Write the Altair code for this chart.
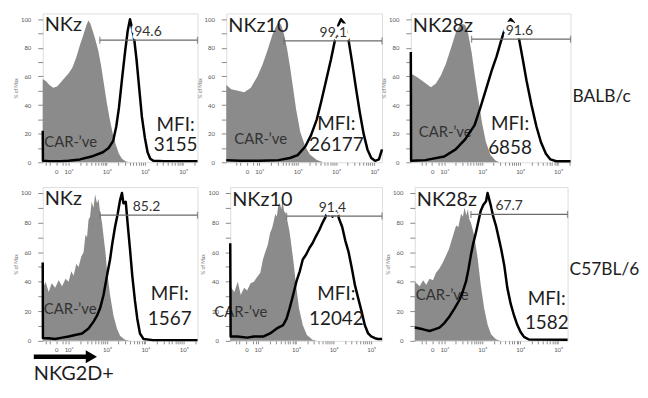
import altair as alt
import pandas as pd
import numpy as np

# ---------------- data ----------------
# x values are in display "decades" of the biexponential FlowJo axis (2 = 10^2, 3 = 10^3 ...)
# y values are "% of Max"

# NKz / BALB/c
nkz_balb_neg_d = [1.325, 1.40, 1.50, 1.60, 1.70, 1.80, 1.90, 2.00, 2.10, 2.20, 2.30, 2.40, 2.47, 2.52, 2.57, 2.62,
                  2.70, 2.78, 2.85, 2.92, 3.00, 3.08, 3.16, 3.24, 3.32, 3.40, 3.50, 3.60, 5.377]
nkz_balb_neg_v = [58, 57, 54, 52, 53, 56, 59, 62, 66, 73, 82, 90, 96, 99, 97, 93,
                  86, 78, 68, 56, 42, 30, 20, 12, 6, 2.5, 0.5, 0, 0]
nkz_balb_pos_d = [1.325, 1.33, 1.5, 1.8, 2.0, 2.3, 2.6, 2.9, 3.05, 3.17, 3.25, 3.32, 3.40, 3.48, 3.55, 3.61,
                  3.66, 3.72, 3.78, 3.85, 3.92, 4.0, 4.07, 4.14, 4.22, 4.5, 5.377]
nkz_balb_pos_v = [22, 1, 0.8, 0.8, 1, 2, 4, 7, 10, 15, 25, 38, 58, 77, 92, 100,
                  94, 86, 72, 52, 32, 17, 7, 2.5, 1, 0.8, 0.8]

# NKz10 / BALB/c
nkz10_balb_neg_d = [1.139, 1.27, 1.44, 1.61, 1.78, 1.95, 2.08, 2.21, 2.34, 2.42, 2.50, 2.57, 2.64, 2.72, 2.80,
                    2.88, 2.96, 3.07, 3.20, 3.32, 3.50, 3.67, 5.201]
nkz10_balb_neg_v = [54, 51, 50, 49, 52, 60, 68, 78, 89, 94, 98, 96, 90, 80, 67,
                    52, 37, 21, 11, 5.5, 1.6, 0, 0]
nkz10_balb_pos_d = [1.139, 1.5, 2.0, 2.5, 2.8, 3.0, 3.2, 3.35, 3.5, 3.62, 3.75, 3.87, 3.97, 4.05, 4.13, 4.22,
                    4.33, 4.42, 4.52, 4.62, 4.72, 4.82, 4.92, 5.02, 5.12, 5.201]
nkz10_balb_pos_v = [1.5, 1, 1, 1.5, 3, 5, 11, 19, 30, 43, 58, 72, 85, 95, 100, 97,
                    85, 70, 52, 35, 20, 9, 3, 1, 2, 9]

# NK28z / BALB/c
nk28z_balb_neg_d = [1.118, 1.29, 1.47, 1.65, 1.78, 1.91, 2.04, 2.18, 2.31, 2.44, 2.55, 2.63, 2.72, 2.81, 2.90,
                    3.00, 3.10, 3.22, 3.35, 3.45, 5.33]
nk28z_balb_neg_v = [62, 59.5, 56, 52.5, 55, 60.6, 68.7, 80, 91, 97, 96, 90, 77, 60, 44,
                    27, 14, 5, 1.2, 0, 0]
nk28z_balb_pos_d = [1.118, 1.125, 1.5, 2.0, 2.3, 2.55, 2.8, 2.95, 3.1, 3.25, 3.38, 3.5, 3.62, 3.75, 3.85, 3.93,
                    3.98, 4.07, 4.17, 4.3, 4.43, 4.55, 4.68, 4.8, 4.95, 5.33]
nk28z_balb_pos_v = [77, 1, 1.5, 4, 9, 16, 26, 38, 51, 64, 74, 85, 95, 100, 97, 91,
                    85, 72, 57, 40, 25, 14, 6, 2, 0.7, 0.7]

# NKz / C57BL/6
nkz_b6_neg_d = [1.325, 1.40, 1.48, 1.56, 1.65, 1.74, 1.83, 1.92, 2.0, 2.07, 2.13, 2.20, 2.26, 2.33, 2.39, 2.44,
                2.48, 2.52, 2.56, 2.60, 2.65, 2.69, 2.74, 2.78, 2.82, 2.87, 2.91, 2.96, 3.0, 3.08, 3.17, 3.26,
                3.34, 3.47, 3.6, 5.36]
nkz_b6_neg_v = [35, 40, 33, 39, 36, 41, 37, 42, 40, 47, 44, 52, 50, 57, 60, 72,
                70, 82, 84, 94, 90, 99, 93, 96, 87, 80, 71, 60, 48, 31, 17, 8.4,
                3.5, 0.7, 0, 0]
nkz_b6_pos_d = [1.325, 1.33, 1.48, 1.65, 1.83, 2.0, 2.17, 2.35, 2.52, 2.65, 2.74, 2.82, 2.91, 3.0, 3.08, 3.14,
                3.21, 3.28, 3.34, 3.39, 3.43, 3.49, 3.54, 3.6, 3.66, 3.73, 3.79, 3.86, 3.95, 4.2, 5.36]
nkz_b6_pos_v = [53, 2, 1.8, 1.3, 2.2, 3, 4, 5, 8.4, 13, 17, 22, 31, 44, 55, 66,
                77, 86, 95, 100, 93, 94, 79, 62, 44, 27, 15, 5, 1.3, 0.5, 0.5]

# NKz10 / C57BL/6
nkz10_b6_neg_d = [1.25, 1.36, 1.45, 1.53, 1.62, 1.7, 1.79, 1.88, 1.96, 2.05, 2.12, 2.18, 2.25, 2.31, 2.36, 2.40,
                  2.45, 2.49, 2.53, 2.57, 2.61, 2.64, 2.68, 2.73, 2.78, 2.82, 2.86, 2.90, 2.95, 2.99, 3.08, 3.18,
                  3.29, 3.44, 3.55, 5.29]
nkz10_b6_neg_v = [37, 33, 40, 31, 36, 34, 39, 40, 43, 46, 55, 60, 65, 73, 76, 80,
                  86, 84, 92, 93, 89, 96, 88, 86, 80, 75, 68, 60, 50, 40, 22, 10.7,
                  4, 0.7, 0, 0]
nkz10_b6_pos_d = [1.25, 1.26, 1.44, 1.7, 1.88, 2.14, 2.31, 2.49, 2.66, 2.75, 2.83, 2.92, 3.01, 3.1, 3.18, 3.27,
                  3.36, 3.44, 3.53, 3.62, 3.7, 3.79, 3.84, 3.88, 3.93, 3.97, 4.01, 4.05, 4.1, 4.14, 4.23, 4.31,
                  4.4, 4.49, 4.57, 4.66, 4.75, 4.83, 4.92, 5.0, 5.1, 5.18, 5.29]
nkz10_b6_pos_v = [66, 3, 3, 2.2, 3, 3, 5, 8.4, 10.7, 15, 22, 30.7, 40, 47, 55, 58.4,
                  63, 66, 70.7, 75, 79.5, 84, 88, 85, 90, 84, 89, 85, 88, 83, 77, 68,
                  60, 48.6, 37.5, 28.4, 19.5, 10.7, 5, 3, 1.8, 1.3, 1.3]

# NK28z / C57BL/6
nk28z_b6_neg_d = [1.22, 1.35, 1.44, 1.52, 1.61, 1.7, 1.78, 1.87, 1.96, 2.05, 2.12, 2.18, 2.25, 2.31, 2.37, 2.44,
                  2.49, 2.53, 2.58, 2.62, 2.66, 2.7, 2.79, 2.88, 2.96, 3.05, 3.14, 3.23, 3.36, 3.48, 5.25]
nk28z_b6_neg_v = [40, 37, 41, 38, 42, 41, 46, 49, 53, 58, 62, 67, 73, 78, 77, 86,
                  84, 90, 85, 89, 82, 80, 71, 55.6, 37.8, 22, 11, 4.4, 1.1, 0, 0]
nk28z_b6_pos_d = [1.22, 1.44, 1.61, 1.74, 1.87, 2.0, 2.14, 2.27, 2.4, 2.48, 2.57, 2.64, 2.7, 2.76, 2.83, 2.9,
                  2.96, 3.03, 3.1, 3.14, 3.18, 3.23, 3.29, 3.36, 3.43, 3.5, 3.58, 3.66, 3.75, 3.84, 3.92, 4.01,
                  4.1, 4.23, 5.25]
nk28z_b6_pos_v = [9, 7.8, 6.7, 7.8, 9, 12, 16.7, 22, 27.8, 33, 40, 49, 58, 65.6, 73, 81,
                  88, 92, 94.4, 100, 96, 91, 84, 78, 70, 62, 51, 36, 25, 17, 11, 6,
                  2.7, 0.9, 0.7]

constructs = ["NKz", "NKz10", "NK28z", "NKz", "NKz10", "NK28z"]
strain_labels = ["BALB/c", "C57BL/6"]
gate_pct = ["94.6", "99.1", "91.6", "85.2", "91.4", "67.7"]
gate_start = [2.82, 2.64, 2.72, 2.82, 2.75, 2.70]
gate_level = [85.3, 84.8, 86.0, 85.0, 84.4, 85.5]
gate_label_at = [4.08, 3.93, 3.98, 4.03, 3.97, 3.71]
mfi_values = ["3155", "26177", "6858", "1567", "12042", "1582"]
neg_label = "CAR-\u2019ve"
axis_title = "% of Max"
marker_label = "NKG2D+"

neg_d = [nkz_balb_neg_d, nkz10_balb_neg_d, nk28z_balb_neg_d, nkz_b6_neg_d, nkz10_b6_neg_d, nk28z_b6_neg_d]
neg_v = [nkz_balb_neg_v, nkz10_balb_neg_v, nk28z_balb_neg_v, nkz_b6_neg_v, nkz10_b6_neg_v, nk28z_b6_neg_v]
pos_d = [nkz_balb_pos_d, nkz10_balb_pos_d, nk28z_balb_pos_d, nkz_b6_pos_d, nkz10_b6_pos_d, nk28z_b6_pos_d]
pos_v = [nkz_balb_pos_v, nkz10_balb_pos_v, nk28z_balb_pos_v, nkz_b6_pos_v, nkz10_b6_pos_v, nk28z_b6_pos_v]

# ---------------- layout (positions / sizes / styles) ----------------
x_domains = [[1.325, 5.377], [1.139, 5.201], [1.118, 5.33], [1.325, 5.36], [1.25, 5.29], [1.22, 5.25]]
widths = [156, 157, 161, 156, 153, 154]
heights = [150, 150, 150, 155, 155, 155]
title_y = [17.5, 19, 19, 17.7, 18.7, 18.7]
car_pos = [(1.5, 129.5), (8, 127), (8, 120), (1, 123), (-16, 126), (1, 109)]
mfi_pos = [(134, 112, 133), (111, 111, 133), (100, 111.5, 136), (128, 108, 133.5), (107, 108, 133), (133, 113, 137)]
row_label_pos = {2: (163, 84), 5: (156, 84)}

FONT = "Lato"
GRAY = "#8b8b8b"
ZERO_POS = 1.68
TXT = "#1e1e1e"

sup = {2: "10\u00b2", 3: "10\u00b3", 4: "10\u2074", 5: "10\u2075"}
label_expr = ("datum.value == 2 ? '%s' : datum.value == 3 ? '%s' : datum.value == 4 ? '%s' : "
              "datum.value == 5 ? '%s' : datum.value == %s ? '0' : ''") % (sup[2], sup[3], sup[4], sup[5], ZERO_POS)


def x_tick_values(dmin, dmax):
    vals = [1.4, 1.5, ZERO_POS, 1.85, 1.93]
    for n in range(2, 6):
        for k in range(1, 10):
            vals.append(round(float(n + np.log10(k)), 4))
    return sorted(v for v in vals if dmin <= v <= dmax)


def text_layer(txt, x, y, size, align="left", baseline="middle", color=TXT, **kw):
    return alt.Chart(pd.DataFrame({"t": [txt]})).mark_text(
        font=FONT, fontSize=size, align=align, baseline=baseline, color=color, **kw
    ).encode(x=alt.value(x), y=alt.value(y), text="t:N")


def panel(i):
    dmin, dmax = x_domains[i]
    w, h = widths[i], heights[i]
    xs = alt.Scale(domain=[dmin, dmax], nice=False, zero=False)
    ys = alt.Scale(domain=[0, 104], nice=False)
    xaxis = alt.Axis(values=x_tick_values(dmin, dmax), labelExpr=label_expr, title=None, grid=False,
                     domain=False, tickSize=3, tickColor="#8a8a8a", labelFontSize=6, labelColor="#555",
                     labelPadding=3, labelFont=FONT, labelFlush=False, labelOverlap=False)
    yaxis = alt.Axis(values=list(range(0, 101, 10)), labelExpr="datum.value % 20 == 0 ? datum.label : ''",
                     title=axis_title, titleFontSize=5, titleColor="#777", titleFontWeight="normal",
                     titlePadding=2, titleFont=FONT, grid=False, domain=False, tickSize=5,
                     tickColor="#8a8a8a", labelFontSize=6, labelColor="#555", labelPadding=7,
                     labelFont=FONT, labelFlush=False, labelOverlap=False)
    neg = pd.DataFrame({"d": neg_d[i], "v": neg_v[i]})
    pos = pd.DataFrame({"d": pos_d[i], "v": pos_v[i], "i": list(range(len(pos_d[i])))})
    gate = pd.DataFrame({"x1": [gate_start[i]], "x2": [dmax], "v": [gate_level[i]],
                         "t": [gate_pct[i]], "xl": [gate_label_at[i]]})
    ends = pd.DataFrame({"x": [gate_start[i], dmax], "v": [gate_level[i]] * 2})

    # every layer carries the same axis definition so that the merged axes are identical
    X = lambda f: alt.X(f, scale=xs, axis=xaxis)
    Y = lambda f: alt.Y(f, scale=ys, axis=yaxis)

    area = alt.Chart(neg).mark_area(color=GRAY, interpolate="linear").encode(x=X("d:Q"), y=Y("v:Q"))
    cx, cy = car_pos[i]
    car = text_layer(neg_label, cx, cy, 15, color="#333")
    line = alt.Chart(pos).mark_line(color="black", strokeWidth=2.5, strokeJoin="round").encode(
        x=X("d:Q"), y=Y("v:Q"), order="i:Q")
    halo = alt.Chart(gate).mark_text(font=FONT, fontSize=14, baseline="bottom", dy=-1, fill="white",
                                     stroke="white", strokeWidth=7, strokeJoin="round").encode(
        x=X("xl:Q"), y=Y("v:Q"), text="t:N")
    rule = alt.Chart(gate).mark_rule(color="#6a6a6a", strokeWidth=1.3).encode(
        x=X("x1:Q"), x2="x2:Q", y=Y("v:Q"))
    ticks = alt.Chart(ends).mark_tick(color="#6a6a6a", orient="vertical", size=7, thickness=1.3).encode(
        x=X("x:Q"), y=Y("v:Q"))
    glabel = alt.Chart(gate).mark_text(font=FONT, fontSize=14, baseline="bottom", dy=-1, color="#333").encode(
        x=X("xl:Q"), y=Y("v:Q"), text="t:N")
    title = text_layer(constructs[i], 2, title_y[i], 20, baseline="alphabetic")
    mx, my1, my2 = mfi_pos[i]
    mfi1 = text_layer("MFI:", mx, my1, 19, align="center")
    mfi2 = text_layer(mfi_values[i], mx, my2, 19, align="center")
    layers = [area, car, line, halo, rule, ticks, glabel, title, mfi1, mfi2]
    if i in row_label_pos:
        rx, ry = row_label_pos[i]
        layers.append(text_layer(strain_labels[0 if i == 2 else 1], rx, ry, 17.5))
    if i == 3:
        shaft = alt.Chart(pd.DataFrame({"a": [0]})).mark_rule(color="black", strokeWidth=4.5).encode(
            x=alt.value(-9), x2=alt.value(44), y=alt.value(171))
        head = alt.Chart(pd.DataFrame({"a": [0]})).mark_point(
            shape="triangle-right", filled=True, color="black", size=170, opacity=1).encode(
            x=alt.value(49), y=alt.value(171))
        layers += [shaft, head, text_layer(marker_label, -9, 194, 20, baseline="alphabetic")]
    return alt.layer(*layers).properties(width=w, height=h)


row1 = alt.hconcat(panel(0), panel(1), panel(2), spacing=29, bounds="flush")
row2 = alt.hconcat(panel(3), panel(4), panel(5), spacing=33, bounds="flush")
chart = alt.vconcat(row1, row2, spacing=11).properties(
    padding={"left": 5, "top": 3, "right": 0, "bottom": 0}
).configure_view(stroke="#9c9c9c", strokeWidth=1).configure(background="white").configure_axis(
    labelOverlap=False)

chart.save("out.html", embed_options={"renderer": "svg", "actions": False})
